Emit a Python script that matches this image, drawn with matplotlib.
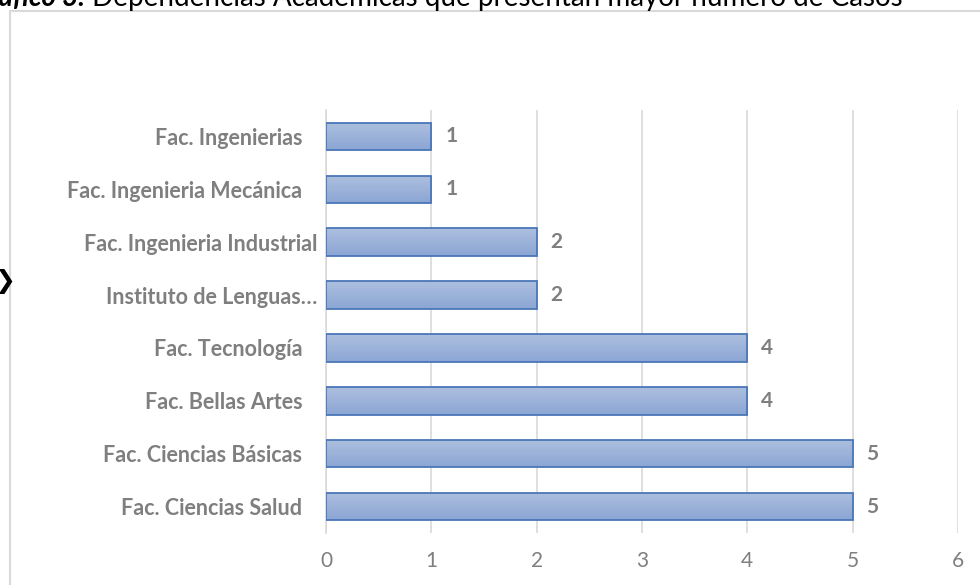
import matplotlib
matplotlib.use("Agg")
import matplotlib.pyplot as plt
import matplotlib.transforms as mtransforms
from matplotlib.colors import LinearSegmentedColormap
from matplotlib.patches import Rectangle
import numpy as np

# data, top to bottom as shown
categories = [
    "Fac. Ingenierias",
    "Fac. Ingenieria Mecánica",
    "Fac. Ingenieria Industrial",
    "Instituto de Lenguas…",
    "Fac. Tecnología",
    "Fac. Bellas Artes",
    "Fac. Ciencias Básicas",
    "Fac. Ciencias Salud",
]
casos = [1, 1, 2, 2, 4, 4, 5, 5]
x_ticks = [0, 1, 2, 3, 4, 5, 6]

titulo_bold = "Gráfico 3."
titulo_resto = " Dependencias Académicas que presentan mayor número de Casos"

GRAY = "#7f7f7f"
GRID = "#d9d9d9"
FONT = "Lato"

fig = plt.figure(figsize=(9.8, 5.85), dpi=100)
W, H = 980, 585

# outer chart frame (cut off at right/bottom like the screenshot)
fig.patches.append(Rectangle((9.5 / W, -0.05), 1.2, (H - 10.5) / H + 0.05,
                             transform=fig.transFigure, fill=False,
                             edgecolor=GRID, linewidth=1.5))

ax = fig.add_axes([326 / W, 1 - 533 / H, (958 - 326) / W, (533 - 110) / H])

y = np.arange(len(categories))
bars = ax.barh(y, casos, height=0.52, color="none", edgecolor="#4a76b8",
               linewidth=1.3, zorder=3)

# vertical gradient fill in each bar
cmap = LinearSegmentedColormap.from_list("bar", ["#adbfdf", "#8ba6d4"])
grad = np.linspace(0, 1, 64).reshape(-1, 1)
for b in bars:
    x0, y0, w, h = b.get_x(), b.get_y(), b.get_width(), b.get_height()
    im = ax.imshow(grad, extent=(x0, x0 + w, y0, y0 + h), origin="lower",
                   aspect="auto", cmap=cmap, zorder=2)
    im.set_clip_path(b)

ax.set_xlim(0, 6)
ax.set_ylim(len(categories) - 0.5, -0.5)
ax.set_xticks(x_ticks)
ax.set_yticks(y)
ax.set_yticklabels(categories, fontfamily=FONT, fontweight="bold",
                   fontsize=15.5, color=GRAY)
ax.set_xticklabels([str(t) for t in x_ticks], fontfamily=FONT,
                   fontsize=15, color=GRAY)
ax.tick_params(axis="y", length=0, pad=17)
ax.tick_params(axis="x", length=0, pad=13)

# a couple of labels sit further right in the original
for lab in ax.get_yticklabels():
    if lab.get_text() in ("Instituto de Lenguas…", "Fac. Ingenieria Industrial"):
        lab.set_transform(lab.get_transform() +
                          mtransforms.ScaledTranslation(15 / 100, 0, fig.dpi_scale_trans))

ax.grid(axis="x", color=GRID, linewidth=1.2, zorder=0)
ax.set_axisbelow(True)
for s in ["top", "right", "bottom"]:
    ax.spines[s].set_visible(False)
ax.spines["left"].set_color(GRID)
ax.spines["left"].set_linewidth(1.2)

for yi, v in zip(y, casos):
    ax.annotate(str(v), (v, yi), xytext=(10, 0), textcoords="offset points",
                va="center", ha="left", fontfamily=FONT, fontweight="bold",
                fontsize=15, color=GRAY)

# title, mostly cut off at top of image
t1 = fig.text(-30 / W, 1 - 6 / H, titulo_bold, fontfamily=FONT,
              fontweight="bold", fontstyle="italic", fontsize=20,
              va="baseline", ha="left", color="black")
fig.canvas.draw()
bb = t1.get_window_extent()
fig.text(bb.x1 / W, 1 - 6 / H, titulo_resto, fontfamily=FONT, fontsize=20,
         va="baseline", ha="left", color="black")

# arrow bullet at left edge
fig.text(-6 / W, 1 - 281 / H, "❯", fontfamily="DejaVu Sans", fontweight="bold",
         fontsize=18, va="center", ha="left", color="black")

fig.savefig("out.png", dpi=100)
